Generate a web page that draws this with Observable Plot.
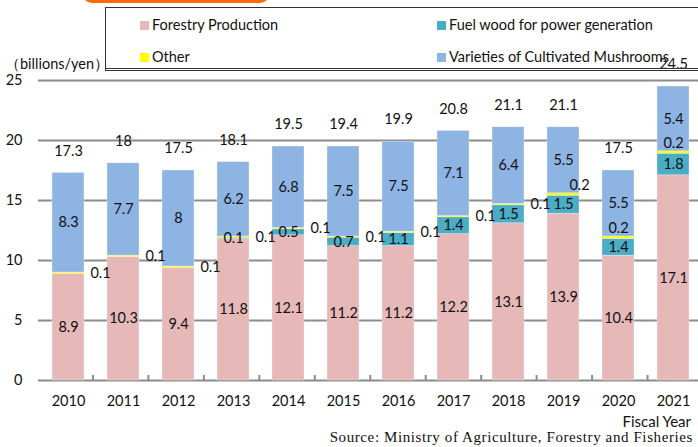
<!DOCTYPE html>
<html>
<head>
<meta charset="utf-8">
<script src="https://cdn.jsdelivr.net/npm/d3@7"></script>
<script src="https://cdn.jsdelivr.net/npm/@observablehq/plot@0.6"></script>
<style>
  html, body { margin: 0; padding: 0; background: #fff; }
  #wrap { position: relative; width: 698px; height: 447px; overflow: hidden; font-family: Lato, "Open Sans", sans-serif; color: #111; }
  #chart { position: absolute; left: 0; top: 0; }
  .tag { position: absolute; left: 82px; top: -20px; width: 188px; height: 23px; background: #FF6A13; border-radius: 10px; }
  .legend { position: absolute; left: 105px; top: 7px; width: 600px; height: 64px; border: 1.5px solid #333; border-bottom: 3px double #333; box-sizing: border-box; }
  .li { position: absolute; font-size: 14.5px; line-height: 16px; white-space: nowrap; }
  .sw { display: inline-block; width: 9px; height: 9px; margin-right: 3px; vertical-align: 0px; }
  .unit { position: absolute; left: 5px; top: 55px; font-size: 14.5px; }
  .fy { position: absolute; right: 7px; top: 412px; font-size: 15px; }
  .src { position: absolute; right: 5px; top: 429px; font-size: 15px; letter-spacing: 0.6px; font-family: "Liberation Serif", "DejaVu Serif", serif; }
</style>
</head>
<body>
<div id="wrap">
  <div id="chart"></div>
  <div class="tag"></div>
  <div class="legend"></div>
  <div class="li" style="left:140px;top:17px"><span class="sw" style="background:#E6B9B8"></span>Forestry Production</div>
  <div class="li" style="left:437px;top:17px"><span class="sw" style="background:#4BACC6"></span>Fuel wood for power generation</div>
  <div class="li" style="left:140px;top:49px"><span class="sw" style="background:#FFFF00"></span>Other</div>
  <div class="li" style="left:437px;top:49px"><span class="sw" style="background:#8DB4E2"></span>Varieties of Cultivated Mushrooms</div>
  <div class="unit">（billions/yen）</div>
  <div class="fy">Fiscal Year</div>
  <div class="src">Source: Ministry of Agriculture, Forestry and Fisheries</div>
</div>
<script>
const years = ["2010","2011","2012","2013","2014","2015","2016","2017","2018","2019","2020","2021"];
const forestry  = [8.9, 10.3, 9.4, 11.8, 12.1, 11.2, 11.2, 12.2, 13.1, 13.9, 10.4, 17.1];
const fuelwood  = [0, 0, 0, 0.1, 0.5, 0.7, 1.1, 1.4, 1.5, 1.5, 1.4, 1.8];
const other     = [0.1, 0.1, 0.1, 0.1, 0.1, 0.1, 0.1, 0.1, 0.1, 0.2, 0.2, 0.2];
const mushrooms = [8.3, 7.7, 8, 6.2, 6.8, 7.5, 7.5, 7.1, 6.4, 5.5, 5.5, 5.4];
const totals    = ["17.3","18","17.5","18.1","19.5","19.4","19.9","20.8","21.1","21.1","17.5","24.5"];
const yTicks = [0, 5, 10, 15, 20, 25];

const seriesNames = ["Forestry Production","Fuel wood for power generation","Other","Varieties of Cultivated Mushrooms"];
const seriesVals = [forestry, fuelwood, other, mushrooms];
const colors = ["#E6B9B8","#4BACC6","#FFFF00","#8DB4E2"];

// stacked segments
const segs = [];
years.forEach((yr, i) => {
  let base = 0;
  seriesVals.forEach((arr, s) => {
    const v = arr[i];
    segs.push({year: yr, series: seriesNames[s], value: v, y1: base, y2: base + v, idx: i});
    base += v;
  });
});
const tops = years.map((yr, i) => ({year: yr, label: totals[i], top: forestry[i] + fuelwood[i] + other[i] + mushrooms[i]}));

const forestLabels = segs.filter(d => d.series === seriesNames[0]);
const fuelLabels = segs.filter(d => d.series === seriesNames[1] && d.value > 0);
const mushLabels = segs.filter(d => d.series === seriesNames[3]);
const otherOut = segs.filter(d => d.series === seriesNames[2] && d.idx <= 8);
const otherOut2019 = segs.filter(d => d.series === seriesNames[2] && d.idx === 9);
const otherIn = segs.filter(d => d.series === seriesNames[2] && d.idx >= 10);

const fmt = v => String(v);
const font = {fontSize: 14.5, fill: "#111"};
const mid = d => (d.y1 + d.y2) / 2;

const plot = Plot.plot({
  width: 698,
  height: 447,
  marginTop: 80,
  marginBottom: 67,
  marginLeft: 38,
  marginRight: 0,
  style: {fontFamily: "Lato, 'Open Sans', sans-serif", background: "transparent", overflow: "visible"},
  x: {domain: years, range: [37.5, 703], paddingInner: 0.42, paddingOuter: 0.21, align: 0.5, axis: null, label: null},
  y: {domain: [0, 25], axis: null, label: null},
  color: {domain: seriesNames, range: colors},
  marks: [
    Plot.ruleY(yTicks, {stroke: "#8c8c8c", strokeWidth: 2}),
    Plot.ruleX([0], {x: () => 38, stroke: "#8c8c8c", strokeWidth: 2}),
    Plot.barY(segs, {x: "year", y1: "y1", y2: "y2", fill: "series", stroke: "#fff", strokeOpacity: 0.5, strokeWidth: 0.6}),
    Plot.axisY({ticks: yTicks, tickSize: 0, tickPadding: 16, fontSize: 14.5, anchor: "left", tickFormat: d => d, label: null}),
    Plot.axisX({ticks: years, tickSize: 0, tickPadding: 15, fontSize: 14.5, anchor: "bottom", label: null}),
    Plot.text(forestLabels, {x: "year", y: mid, text: d => fmt(d.value), ...font}),
    Plot.text(fuelLabels, {x: "year", y: mid, text: d => fmt(d.value), ...font}),
    Plot.text(mushLabels, {x: "year", y: mid, text: d => fmt(d.value), ...font}),
    Plot.text(otherOut, {x: "year", y: mid, text: d => fmt(d.value), dx: 32, ...font}),
    Plot.text(otherOut2019, {x: "year", y: mid, text: d => fmt(d.value), dx: 16, dy: -9, ...font}),
    Plot.text(otherIn, {x: "year", y: d => d.y2, text: d => fmt(d.value), dy: -8, ...font}),
    Plot.text(tops, {x: "year", y: "top", text: "label", dy: -22, ...font})
  ]
});

document.getElementById("chart").appendChild(plot);
// small tick marks at band boundaries on the bottom axis
const svg = d3.select(plot);
const xs = plot.scale("x");
const ys = plot.scale("y");
const step = (xs.range[1] - xs.range[0]) / years.length;
const y0 = ys.apply(0);
const g = svg.append("g").attr("stroke", "#8c8c8c").attr("stroke-width", 2);
for (let i = 1; i < years.length; i++) {
  const xx = xs.range[0] + i * step;
  g.append("line").attr("x1", xx).attr("x2", xx).attr("y1", y0).attr("y2", y0 - 5);
}
</script>
</body>
</html>
